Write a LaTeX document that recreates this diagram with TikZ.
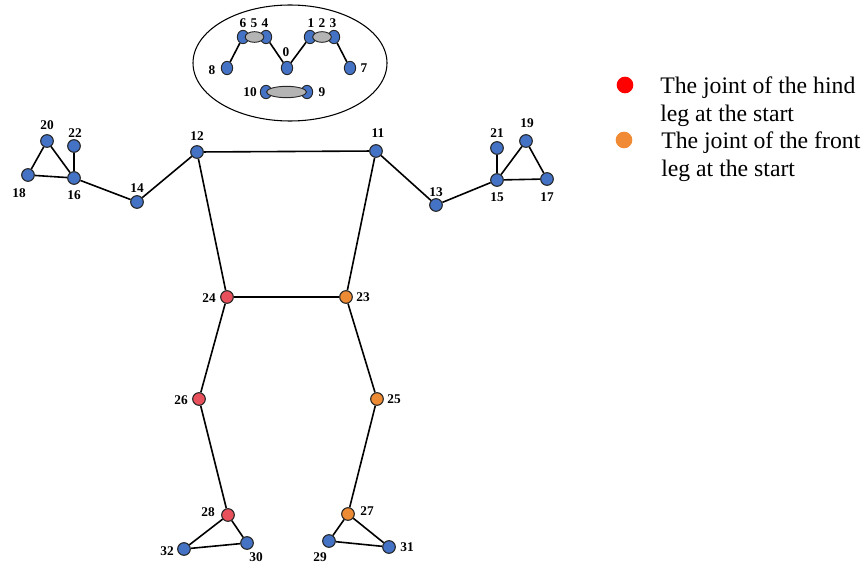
\documentclass[tikz,border=0pt]{standalone}
\usepackage{fontspec}
\setmainfont{Liberation Serif}
\usetikzlibrary{shapes.geometric,backgrounds}
\definecolor{jblue}{HTML}{4472C4}
\definecolor{jred}{HTML}{E8505B}
\definecolor{jorange}{HTML}{ED8B35}
\definecolor{lred}{HTML}{FF0000}
\definecolor{lorange}{HTML}{F08A34}
\definecolor{jgray}{HTML}{B4B4B4}
\begin{document}
\begin{tikzpicture}[x=0.75pt,y=-0.75pt,
  joint/.style={circle,draw=black!85,line width=0.8pt,fill=jblue,minimum size=9.5pt,inner sep=0pt},
  hind/.style={joint,fill=jred},
  front/.style={joint,fill=jorange},
  fjoint/.style={ellipse,draw=black!85,line width=0.7pt,fill=jblue,minimum width=8.5pt,minimum height=10pt,inner sep=0pt},
  gray ell/.style={ellipse,draw=black!85,line width=0.7pt,fill=jgray,inner sep=0pt},
  num/.style={font=\fontsize{10}{12}\selectfont\bfseries,inner sep=0pt},
  bone/.style={line width=1.2pt,black},
  legtext/.style={font=\fontsize{17.8}{21}\selectfont,align=left,anchor=west,inner sep=0pt}]
\useasboundingbox (0,0) rectangle (867,563);
% face
\node[draw,ellipse,line width=0.8pt,minimum width=145.5pt,minimum height=87pt,inner sep=0pt] (face) at (290,63) {};
\node[fjoint] (n6) at (243,37) {};
\node[fjoint] (n4) at (266,37) {};
\node[gray ell,minimum width=14pt,minimum height=8pt] (n5) at (254.5,37) {};
\node[fjoint] (n1) at (310,37) {};
\node[fjoint] (n3) at (334,37) {};
\node[gray ell,minimum width=14pt,minimum height=8pt] (n2) at (322,37) {};
\node[fjoint] (n8) at (227,68) {};
\node[fjoint] (n0) at (287,68) {};
\node[fjoint] (n7) at (350,68) {};
\node[fjoint] (n10) at (266,92) {};
\node[fjoint] (n9) at (307,92) {};
\node[gray ell,minimum width=30pt,minimum height=8.5pt] (n11m) at (286.5,92) {};
% body joints
\node[joint] (n12) at (197,152) {};
\node[joint] (n11) at (376,151) {};
\node[joint] (n14) at (137,202) {};
\node[joint] (n16) at (74,178) {};
\node[joint] (n18) at (28,175) {};
\node[joint] (n20) at (47,141) {};
\node[joint] (n22) at (74,146) {};
\node[joint] (n13) at (436,205) {};
\node[joint] (n15) at (497,180) {};
\node[joint] (n17) at (547,179) {};
\node[joint] (n19) at (526,141) {};
\node[joint] (n21) at (497,148) {};
\node[hind] (n24) at (227,297) {};
\node[front] (n23) at (346,297) {};
\node[hind] (n26) at (199,399) {};
\node[front] (n25) at (377,399) {};
\node[hind] (n28) at (228,515) {};
\node[front] (n27) at (348,514) {};
\node[joint] (n32) at (184,549) {};
\node[joint] (n30) at (247,543) {};
\node[joint] (n29) at (329,541) {};
\node[joint] (n31) at (389,547) {};
% bones
\begin{pgfonlayer}{background}
\draw[bone] (n6) -- (n8);
\draw[bone] (n4) -- (n0);
\draw[bone] (n0) -- (n1);
\draw[bone] (n3) -- (n7);
\draw[bone] (n12) -- (n11);
\draw[bone] (n12) -- (n14);
\draw[bone] (n14) -- (n16);
\draw[bone] (n16) -- (n18);
\draw[bone] (n16) -- (n20);
\draw[bone] (n18) -- (n20);
\draw[bone] (n16) -- (n22);
\draw[bone] (n11) -- (n13);
\draw[bone] (n13) -- (n15);
\draw[bone] (n15) -- (n17);
\draw[bone] (n15) -- (n19);
\draw[bone] (n17) -- (n19);
\draw[bone] (n15) -- (n21);
\draw[bone] (n12) -- (n24);
\draw[bone] (n11) -- (n23);
\draw[bone] (n24) -- (n23);
\draw[bone] (n24) -- (n26);
\draw[bone] (n26) -- (n28);
\draw[bone] (n28) -- (n32);
\draw[bone] (n28) -- (n30);
\draw[bone] (n32) -- (n30);
\draw[bone] (n23) -- (n25);
\draw[bone] (n25) -- (n27);
\draw[bone] (n27) -- (n29);
\draw[bone] (n27) -- (n31);
\draw[bone] (n29) -- (n31);
\end{pgfonlayer}
% labels
\node[num] (l6) at (243,23) {6};
\node[num] (l5) at (254,23) {5};
\node[num] (l4) at (265,23) {4};
\node[num] (l1) at (311,23) {1};
\node[num] (l2) at (322,23) {2};
\node[num] (l3) at (333,23) {3};
\node[num] (l0) at (286,52) {0};
\node[num] (l8) at (212,70) {8};
\node[num] (l7) at (364,68) {7};
\node[num] (l10) at (250,92) {10};
\node[num] (l9) at (322,92) {9};
\node[num] (l12) at (197,136) {12};
\node[num] (l11) at (378,133) {11};
\node[num] (l14) at (137,188) {14};
\node[num] (l16) at (74,195) {16};
\node[num] (l18) at (19,193) {18};
\node[num] (l20) at (47,125) {20};
\node[num] (l22) at (75,133) {22};
\node[num] (l13) at (436,192) {13};
\node[num] (l15) at (497,197) {15};
\node[num] (l17) at (547,197) {17};
\node[num] (l19) at (527,123) {19};
\node[num] (l21) at (497,133) {21};
\node[num] (l24) at (209,298) {24};
\node[num] (l23) at (363,297) {23};
\node[num] (l26) at (181,400) {26};
\node[num] (l25) at (394,399) {25};
\node[num] (l28) at (208,512) {28};
\node[num] (l27) at (367,511) {27};
\node[num] (l32) at (167,551) {32};
\node[num] (l30) at (256,557) {30};
\node[num] (l29) at (320,557) {29};
\node[num] (l31) at (407,547) {31};
% legend
\node[circle,fill=lred,minimum size=12.5pt,inner sep=0pt] (dred) at (625,85) {};
\node[circle,fill=lorange,minimum size=12.5pt,inner sep=0pt] (dorange) at (624,140) {};
\node[legtext] (tred) at (660,101.5) {The joint of the hind\\leg at the start};
\node[legtext] (torange) at (661,156.5) {The joint of the front\\leg at the start};
\end{tikzpicture}
\end{document}
